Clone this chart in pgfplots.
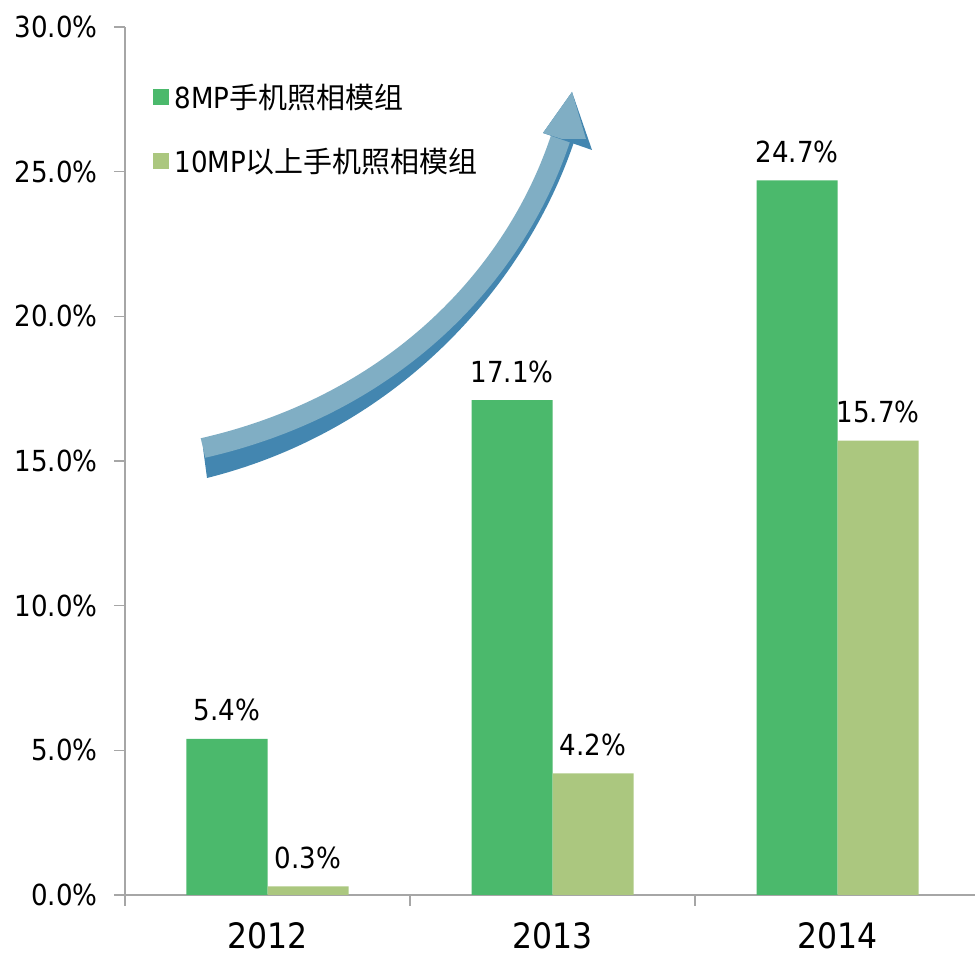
\documentclass[border=0pt]{standalone}
\usepackage{pgfplots}
\pgfplotsset{compat=1.18}
\usepackage{fontspec}
\setmainfont{DejaVu Sans Condensed}
\newfontfamily\cjk{Noto Sans CJK SC}
\definecolor{gA}{HTML}{4BB96C}
\definecolor{gB}{HTML}{ABC77F}
\definecolor{axg}{HTML}{A6A6A6}
\definecolor{arL}{HTML}{80AEC4}
\definecolor{arD}{HTML}{4386B0}
\pgfkeys{/pgf/number format/assume math mode=true}
\begin{document}
\begin{tikzpicture}[x=1pt,y=1pt]
\begin{axis}[
  at={(125pt,62pt)}, anchor=south west,
  scale only axis, width=855pt, height=868pt,
  xmin=-0.5, xmax=2.5, ymin=0, ymax=30,
  axis lines*=left,
  axis line style={axg, line width=1.5pt},
  every tick/.style={axg, line width=1.5pt},
  ybar=0pt, bar width=81pt,
  xtick={-0.5,0.5,1.5,2.5}, xticklabels={},
  extra x ticks={0,1,2}, extra x tick labels={2012,2013,2014},
  extra x tick style={major tick length=0pt, xticklabel style={inner sep=0.5pt, yshift=-27pt}},
  ytick={0,5,...,30},
  tick align=outside,
  major tick length=11pt,
  /pgf/number format/assume math mode=true,
  yticklabel={\pgfmathprintnumber[fixed,fixed zerofill,precision=1]{\tick}\%},
  yticklabel style={font=\fontsize{29}{29}\selectfont, black, xshift=-13pt},
  xticklabel style={font=\fontsize{35}{35}\selectfont, black},
  nodes near coords={\pgfmathprintnumber[fixed,fixed zerofill,precision=1]{\pgfplotspointmeta}\%},
  every node near coord/.append style={font=\fontsize{29}{29}\selectfont, black, yshift=14pt},
  legend cell align=left,
  legend image code/.code={\fill[#1] (0pt,-8pt) rectangle (16pt,8pt);},
  legend style={at={(axis description cs:0.032,0.937)}, anchor=north west, draw=none, fill=none,
    font=\fontsize{29}{29}\selectfont, row sep=34pt, column sep=4pt, inner sep=0pt},
]
\addplot[fill=gA, draw=none] coordinates {(0,5.4) (1,17.1) (2,24.7)};
\addplot[fill=gB, draw=none] coordinates {(0,0.3) (1,4.2) (2,15.7)};
\legend{8MP{\cjk 手机照相模组}, 10MP{\cjk 以上手机照相模组}}
\end{axis}
% decorative curved arrow (ribbon style)
\fill[arD] (203,509) .. controls (396,553) and (516,683) .. (561,820)
  -- (575,818) .. controls (528,676) and (402,528) .. (207,479) -- cycle;
\draw[arL, line width=20pt] (203,509) .. controls (396,553) and (516,683) .. (561,820);
\fill[arD] (543,824) -- (572,865) -- (592,807) -- (566,816) -- cycle;
\fill[arL] (543,824) -- (572,865) -- (586,818) -- (562,818) -- cycle;
\pgfresetboundingbox
\useasboundingbox (0,0) rectangle (975,957);
\end{tikzpicture}
\end{document}
